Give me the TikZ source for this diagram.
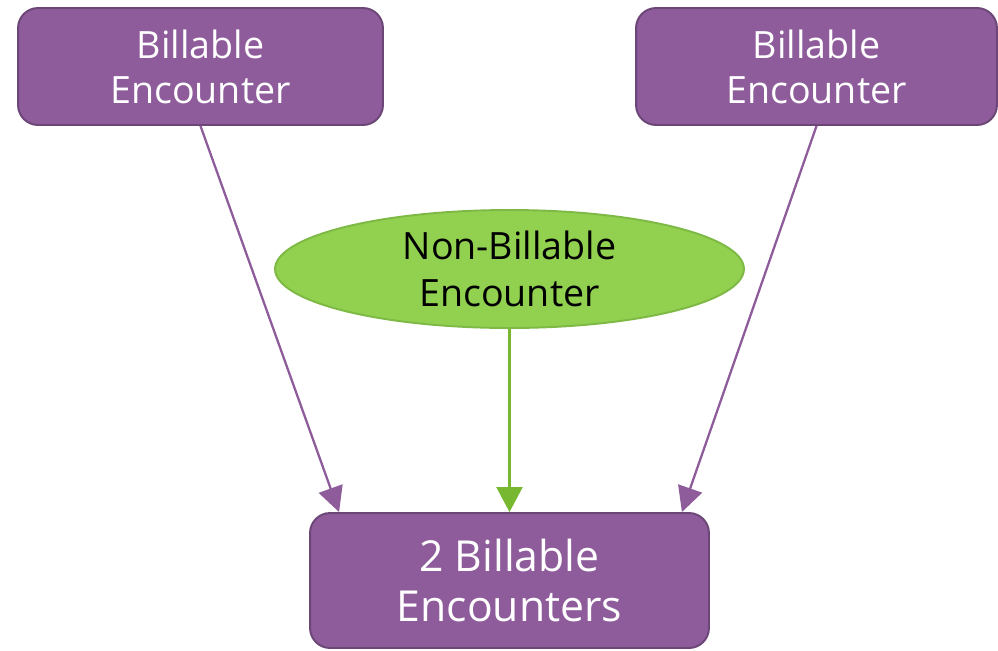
\documentclass[tikz,border=0pt]{standalone}
\usepackage{fontspec}
\setmainfont{Open Sans}
\usepackage{tikz}
\usetikzlibrary{arrows.meta,shapes.geometric,calc}
\definecolor{billpurple}{HTML}{8E5B9B}
\definecolor{billborder}{HTML}{6B4676}
\definecolor{nonbillgreen}{HTML}{92D050}
\definecolor{nonbillborder}{HTML}{7DB944}
\definecolor{nonbillarrow}{HTML}{77B830}

\begin{document}
\begin{tikzpicture}[x=0.02cm, y=-0.02cm,
		billbox/.style={draw=billborder, fill=billpurple, line width=1.1pt, rounded corners=0.4cm,
				text=white, align=center, inner sep=0pt},
		nonbill/.style={ellipse, draw=nonbillborder, fill=nonbillgreen, line width=1.1pt,
				text=black, align=center, inner sep=0pt},
		billarrow/.style={color=billpurple, line width=1.3pt, -{Triangle[length=0.5cm, width=0.5cm]}},
		greenarrow/.style={color=nonbillarrow, line width=1.3pt, -{Triangle[length=0.5cm, width=0.52cm]}}]
		\useasboundingbox (0,0) rectangle (998,650);
		% boxes
		\node[billbox, minimum width=7.3cm, minimum height=2.34cm, font=\fontsize{21.4}{25.5}\selectfont]
			(billA) at (200.5,66.5) {Billable\\Encounter};
		\node[billbox, minimum width=7.22cm, minimum height=2.34cm, font=\fontsize{21.4}{25.5}\selectfont]
			(billB) at (816.5,66.5) {Billable\\Encounter};
		\node[nonbill, minimum width=9.38cm, minimum height=2.36cm, font=\fontsize{21.4}{26.5}\selectfont]
			(nonbill) at (509.5,269) {Non-Billable\\Encounter};
		\node[billbox, minimum width=7.98cm, minimum height=2.7cm, font=\fontsize{24.3}{28.4}\selectfont]
			(total) at (509.5,580.5) {2 Billable\\Encounters};
		% connectors
		\draw[billarrow] (billA.south) -- ($(total.north west)+(30,0)$);
		\draw[billarrow] (billB.south) -- ($(total.north east)+(-28,0)$);
		\draw[greenarrow] (nonbill.south) -- (total.north);
	\end{tikzpicture}
\end{document}
